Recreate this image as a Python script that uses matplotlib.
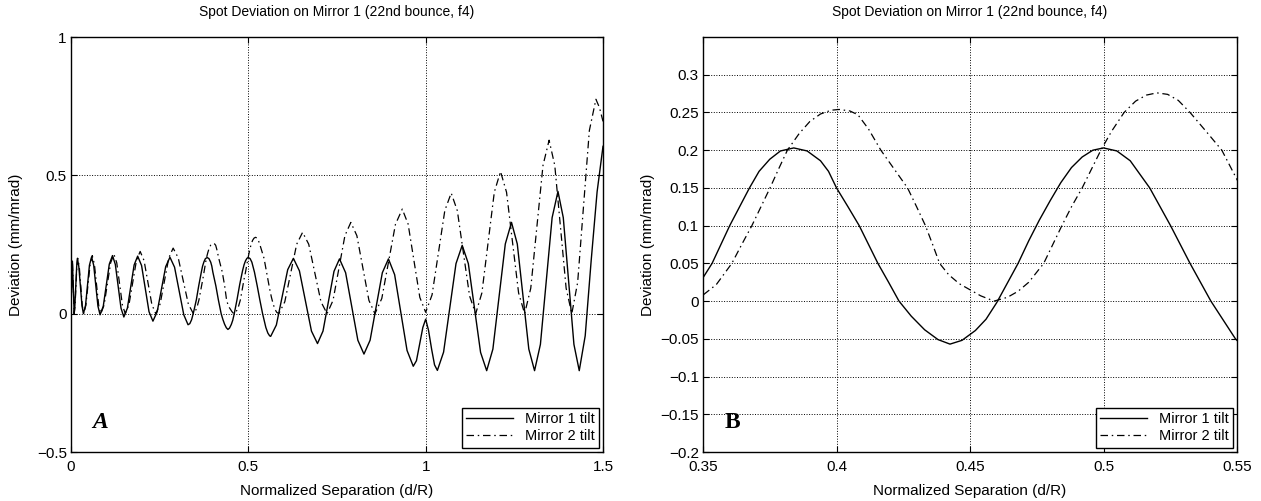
import matplotlib
matplotlib.use('Agg')
import matplotlib.pyplot as plt
from matplotlib.ticker import FuncFormatter

plt.rcParams['font.family'] = ['Liberation Sans', 'DejaVu Sans']

# spot deviation vs normalized separation
# Mirror 1 tilt (solid)
m1_x = [0.000, 0.004, 0.009, 0.011, 0.0135, 0.016, 0.018, 0.022, 0.0265, 0.031,
        0.035, 0.041, 0.0465, 0.052, 0.058, 0.064, 0.070, 0.076, 0.082, 0.091,
        0.0995, 0.108, 0.117, 0.125, 0.133, 0.141, 0.149, 0.159, 0.1685, 0.178,
        0.188, 0.199, 0.2095, 0.220, 0.231, 0.243, 0.255, 0.267, 0.279, 0.292,
        0.305, 0.318, 0.330, 0.335, 0.340, 0.345, 0.350, 0.3534, 0.3567, 0.360,
        0.3637, 0.3674, 0.371, 0.375, 0.379, 0.384, 0.389, 0.394, 0.397, 0.400,
        0.4043, 0.4085, 0.412, 0.4155, 0.4195, 0.4234, 0.428, 0.433, 0.438, 0.4425,
        0.447, 0.452, 0.456, 0.460, 0.464, 0.468, 0.472, 0.4759, 0.480, 0.484,
        0.488, 0.492, 0.496, 0.500, 0.505, 0.510, 0.5173, 0.5251, 0.5324, 0.5402,
        0.5494, 0.555, 0.560, 0.563, 0.579, 0.595, 0.611, 0.627, 0.644, 0.661,
        0.678, 0.695, 0.7105, 0.726, 0.7415, 0.757, 0.7743, 0.7915, 0.8088, 0.826,
        0.8433, 0.8605, 0.8778, 0.895, 0.9125, 0.930, 0.9475, 0.965, 0.974, 0.983,
        0.992, 1.000, 1.008, 1.017, 1.025, 1.033, 1.0505, 1.068, 1.0855, 1.103,
        1.1203, 1.1375, 1.1548, 1.172, 1.1895, 1.207, 1.2245, 1.242, 1.2583, 1.2745,
        1.2908, 1.307, 1.3235, 1.340, 1.3565, 1.373, 1.388, 1.403, 1.418, 1.433,
        1.4498, 1.4665, 1.4833, 1.500]
m1_y = [0.020, 0.190, 0.000, 0.030, 0.100, 0.170, 0.200, 0.171, 0.100, 0.029,
        0.000, 0.030, 0.103, 0.175, 0.205, 0.175, 0.101, 0.027, -0.004, 0.027,
        0.103, 0.179, 0.210, 0.178, 0.099, 0.020, -0.012, 0.020, 0.098, 0.176,
        0.208, 0.174, 0.091, 0.007, -0.027, 0.007, 0.089, 0.170, 0.204, 0.168,
        0.082, -0.004, -0.040, -0.036, -0.022, 0.002, 0.031, 0.050, 0.075, 0.100,
        0.125, 0.150, 0.172, 0.188, 0.199, 0.203, 0.199, 0.186, 0.172, 0.150,
        0.125, 0.100, 0.075, 0.050, 0.025, 0.000, -0.020, -0.038, -0.051, -0.057,
        -0.052, -0.039, -0.024, -0.002, 0.024, 0.050, 0.080, 0.107, 0.133, 0.157,
        0.177, 0.191, 0.200, 0.203, 0.199, 0.186, 0.150, 0.100, 0.050, 0.000,
        -0.050, -0.070, -0.080, -0.082, -0.041, 0.059, 0.159, 0.200, 0.155, 0.046,
        -0.063, -0.108, -0.063, 0.045, 0.153, 0.198, 0.148, 0.026, -0.096, -0.146,
        -0.096, 0.026, 0.148, 0.198, 0.141, 0.004, -0.133, -0.190, -0.170, -0.110,
        -0.050, -0.020, -0.060, -0.130, -0.185, -0.205, -0.139, 0.021, 0.181, 0.247,
        0.181, 0.021, -0.140, -0.206, -0.128, 0.062, 0.252, 0.330, 0.252, 0.062,
        -0.128, -0.206, -0.111, 0.118, 0.347, 0.442, 0.347, 0.118, -0.111, -0.206,
        -0.080, 0.190, 0.440, 0.605]

# Mirror 2 tilt (dash-dot)
m2_x = [0.000, 0.004, 0.009, 0.0115, 0.014, 0.0165, 0.019, 0.0233, 0.0275, 0.0318,
        0.036, 0.042, 0.048, 0.054, 0.060, 0.066, 0.072, 0.078, 0.084, 0.0933,
        0.1025, 0.1118, 0.121, 0.129, 0.137, 0.145, 0.153, 0.1635, 0.174, 0.1845,
        0.195, 0.206, 0.217, 0.228, 0.239, 0.2513, 0.2635, 0.2758, 0.288, 0.3023,
        0.3165, 0.3308, 0.345, 0.350, 0.355, 0.3608, 0.3645, 0.3683, 0.3717, 0.3751,
        0.3783, 0.3816, 0.386, 0.390, 0.394, 0.398, 0.401, 0.405, 0.408, 0.412,
        0.4166, 0.4216, 0.4266, 0.430, 0.4333, 0.436, 0.4386, 0.442, 0.446, 0.450,
        0.454, 0.459, 0.464, 0.468, 0.472, 0.4776, 0.481, 0.4844, 0.488, 0.492,
        0.4955, 0.499, 0.503, 0.5077, 0.512, 0.516, 0.520, 0.524, 0.528, 0.5324,
        0.5384, 0.5443, 0.550, 0.555, 0.560, 0.565, 0.570, 0.575, 0.580, 0.586,
        0.6028, 0.6195, 0.6363, 0.653, 0.6703, 0.6875, 0.7048, 0.722, 0.7388, 0.7555,
        0.7723, 0.789, 0.806, 0.823, 0.840, 0.857, 0.8763, 0.8955, 0.9148, 0.934,
        0.9505, 0.967, 0.9835, 1.000, 1.018, 1.036, 1.054, 1.072, 1.0893, 1.1065,
        1.1238, 1.141, 1.1585, 1.176, 1.1935, 1.211, 1.228, 1.245, 1.262, 1.279,
        1.2963, 1.3135, 1.3308, 1.348, 1.364, 1.380, 1.396, 1.412, 1.4285, 1.445,
        1.4615, 1.480, 1.490, 1.500]
m2_y = [0.020, 0.190, 0.000, 0.029, 0.100, 0.171, 0.200, 0.171, 0.100, 0.029,
        0.000, 0.031, 0.105, 0.179, 0.210, 0.179, 0.105, 0.031, 0.000, 0.031,
        0.108, 0.184, 0.215, 0.184, 0.108, 0.031, 0.000, 0.033, 0.113, 0.192,
        0.225, 0.192, 0.113, 0.033, 0.000, 0.035, 0.119, 0.202, 0.237, 0.202,
        0.119, 0.035, 0.000, 0.008, 0.022, 0.050, 0.075, 0.100, 0.125, 0.150,
        0.175, 0.200, 0.222, 0.238, 0.248, 0.253, 0.254, 0.252, 0.247, 0.228,
        0.200, 0.175, 0.150, 0.125, 0.100, 0.075, 0.050, 0.035, 0.023, 0.015,
        0.007, 0.000, 0.005, 0.013, 0.025, 0.050, 0.075, 0.100, 0.125, 0.150,
        0.175, 0.200, 0.225, 0.250, 0.265, 0.273, 0.276, 0.274, 0.266, 0.250,
        0.225, 0.200, 0.161, 0.125, 0.090, 0.060, 0.035, 0.016, 0.005, 0.000,
        0.043, 0.147, 0.251, 0.294, 0.251, 0.147, 0.043, 0.000, 0.048, 0.165,
        0.282, 0.330, 0.282, 0.165, 0.048, 0.000, 0.055, 0.189, 0.323, 0.378,
        0.324, 0.192, 0.059, 0.005, 0.068, 0.221, 0.373, 0.436, 0.372, 0.218,
        0.064, 0.000, 0.075, 0.257, 0.439, 0.514, 0.439, 0.257, 0.075, 0.000,
        0.092, 0.314, 0.536, 0.627, 0.536, 0.314, 0.092, 0.000, 0.113, 0.388,
        0.662, 0.775, 0.745, 0.695]

title = 'Spot Deviation on Mirror 1 (22nd bounce, f4)'
legend_labels = ['Mirror 1 tilt', 'Mirror 2 tilt']

xticks_a = [0, 0.5, 1, 1.5]
yticks_a = [-0.5, 0, 0.5, 1]
xticks_b = [0.35, 0.4, 0.45, 0.5, 0.55]
yticks_b = [-0.2, -0.15, -0.1, -0.05, 0, 0.05, 0.1, 0.15, 0.2, 0.25, 0.3]


def matlab_fmt(v, pos):
    s = '%g' % round(v, 4)
    return s.replace('-', '\u2212')


fig = plt.figure(figsize=(12.61, 5.01), dpi=100)
ax1 = fig.add_axes([0.0563, 0.0978, 0.4219, 0.8283])
ax2 = fig.add_axes([0.5575, 0.0978, 0.4235, 0.8283])

panels = [(ax1, (0, 1.5), (-0.5, 1), xticks_a, yticks_a, 'A', 'italic', 10),
          (ax2, (0.35, 0.55), (-0.2, 0.35), xticks_b, yticks_b, 'B', 'normal', 4)]

for ax, xl, yl, xt, yt, letter, style, ypad in panels:
    ax.plot(m1_x, m1_y, '-', color='black', lw=1.0)
    ax.plot(m2_x, m2_y, '-.', color='black', lw=0.9, dashes=(6, 3, 1.2, 3))
    ax.set_xlim(xl)
    ax.set_ylim(yl)
    ax.set_xticks(xt)
    ax.set_yticks(yt)
    ax.xaxis.set_major_formatter(FuncFormatter(matlab_fmt))
    ax.yaxis.set_major_formatter(FuncFormatter(matlab_fmt))
    ax.grid(True, linestyle=':', color='black', lw=0.7)
    ax.tick_params(direction='in', top=True, right=True, length=4,
                   labelsize=11, pad=3)
    ax.tick_params(axis='x', pad=6)
    for sp in ax.spines.values():
        sp.set_linewidth(1.0)
    ax.set_title(title, fontsize=10, pad=15)
    ax.set_xlabel('Normalized Separation (d/R)', fontsize=11, labelpad=7)
    ax.set_ylabel('Deviation (mm/mrad)', fontsize=11, labelpad=ypad)
    ax.legend(legend_labels, loc='lower right', fontsize=10.5, fancybox=False,
              edgecolor='black', framealpha=1, borderaxespad=0.3,
              handlelength=3.2, borderpad=0.3, labelspacing=0.2)
    ax.text(0.055, 0.07, letter, transform=ax.transAxes, fontsize=17,
            fontweight='bold', fontstyle=style, family='Liberation Serif',
            ha='center', va='center')

plt.savefig('out.png', dpi=100)
